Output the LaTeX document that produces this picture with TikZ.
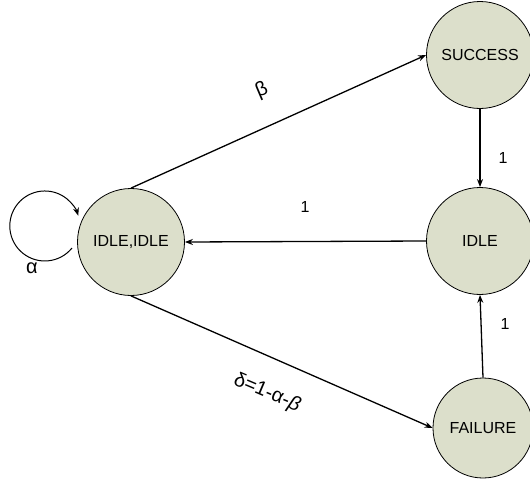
\documentclass[tikz,border=0pt]{standalone}
\usepackage{fontspec}
\setmainfont{Liberation Sans}
\usetikzlibrary{arrows.meta}
\definecolor{statefill}{RGB}{220,223,203}
\begin{document}
\begin{tikzpicture}[x=1pt,y=-1pt,
  state/.style={circle,draw=black,line width=0.8pt,fill=statefill,minimum size=107pt,inner sep=0pt,font=\fontsize{16}{18}\selectfont},
  edge/.style={line width=1.3pt,-{Stealth[length=8pt,width=6pt]}},
  lbl/.style={font=\fontsize{16}{18}\selectfont},
  glbl/.style={font=\fontsize{20}{22}\selectfont}]
\useasboundingbox (0,0) rectangle (530,482);
\node[state] (ii) at (131,242) {IDLE,IDLE};
\node[state] (s) at (480,55) {SUCCESS};
\node[state] (i) at (480,241) {IDLE};
\node[state,minimum size=100pt] (f) at (483,428) {FAILURE};
\draw[edge] (ii.north) -- (s.west);
\draw[edge] (s.south) -- (i.north);
\draw[edge] (i.west) -- (ii.east);
\draw[edge] (f.north) -- (i.south);
\draw[edge] (ii.south) -- (f.west);
\coordinate (ls) at (72,248);
\draw[edge,line width=1pt] (ls) arc[start angle=39,end angle=343,radius=35];
\node[glbl,rotate=23] (lb) at (262,90) {β};
\node[lbl] (l1) at (503,158) {1};
\node[lbl] (l2) at (305,207) {1};
\node[lbl] (l3) at (505,324) {1};
\node[glbl,rotate=-23] (ld) at (267,393) {δ=1-α-\textit{β}};
\node[glbl] (la) at (32,268) {α};
\end{tikzpicture}
\end{document}
